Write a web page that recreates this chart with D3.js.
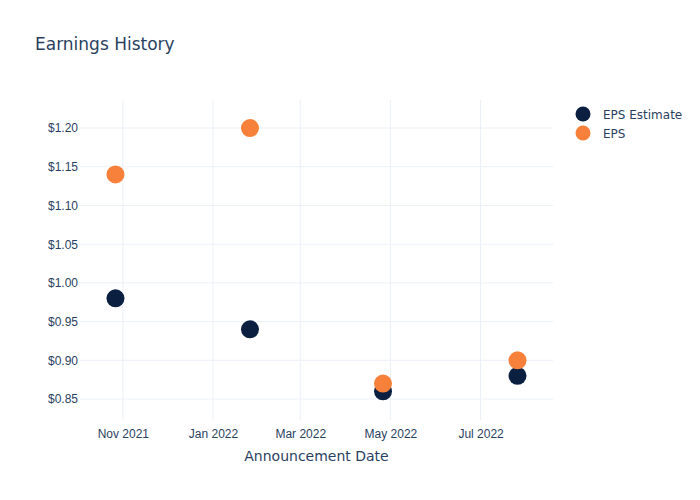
<!DOCTYPE html>
<html><head><meta charset="utf-8">
<script src="https://cdn.jsdelivr.net/npm/d3@7"></script>
<style>body{margin:0;background:#fff;}svg{font-family:"DejaVu Sans",Verdana,sans-serif;}</style>
</head><body>
<svg id="c" width="700" height="500"></svg>
<script>
const dates = ["2021-10-27","2022-01-26","2022-04-26","2022-07-26"];
const epsEstimate = [0.98, 0.94, 0.86, 0.88];
const eps = [1.14, 1.20, 0.87, 0.90];
const seriesNames = ["EPS Estimate", "EPS"];
const seriesColors = ["#0b1f41", "#f7813a"];
const yTicks = [0.85, 0.90, 0.95, 1.00, 1.05, 1.10, 1.15, 1.20];
const xTicks = ["2021-11-01","2022-01-01","2022-03-01","2022-05-01","2022-07-01"];

const parse = d3.utcParse("%Y-%m-%d");
const svg = d3.select("#c");
const m = {l:80, r:147, t:100, b:80};
const W = 700, H = 500;
const x = d3.scaleUtc().domain([parse("2021-10-03"), parse("2022-08-19")]).range([m.l, W-m.r]);
const y = d3.scaleLinear().domain([0.8229, 1.2362]).range([H-m.b, m.t]);
const txt = "#2a3f5f", grid = "#ebf0f8";

const g = svg.append("g");
g.selectAll(".gx").data(xTicks).enter().append("line")
  .attr("x1", d=>x(parse(d))).attr("x2", d=>x(parse(d)))
  .attr("y1", m.t).attr("y2", H-m.b).attr("stroke", grid).attr("stroke-width",1);
g.selectAll(".gy").data(yTicks).enter().append("line")
  .attr("x1", m.l).attr("x2", W-m.r)
  .attr("y1", d=>y(d)).attr("y2", d=>y(d)).attr("stroke", grid).attr("stroke-width",1);

const yAxis = d3.axisLeft(y).tickValues(yTicks).tickSize(0).tickPadding(3).tickFormat(d=>"$"+d.toFixed(2));
const ya = svg.append("g").attr("transform",`translate(${m.l},0)`).call(yAxis);
ya.select(".domain").remove();
ya.selectAll("text").attr("fill", txt).style("font-size","12px").attr("x",-2);

const xAxis = d3.axisBottom(x).tickValues(xTicks.map(parse)).tickSize(0).tickPadding(9).tickFormat(d3.utcFormat("%b %Y"));
const xa = svg.append("g").attr("transform",`translate(0,${H-m.b})`).call(xAxis);
xa.select(".domain").remove();
xa.selectAll("text").attr("fill", txt).style("font-size","12px");

const series = [epsEstimate, eps];
series.forEach((vals, i) => {
  svg.append("g").selectAll("circle").data(vals).enter().append("circle")
    .attr("cx", (d,j)=>x(parse(dates[j]))).attr("cy", d=>y(d)).attr("r", 9)
    .attr("fill", seriesColors[i]);
});

svg.append("text").attr("x",35).attr("y",50).text("Earnings History")
  .attr("fill", txt).style("font-size","17px");
svg.append("text").attr("x",(m.l + W - m.r)/2).attr("y",461).attr("text-anchor","middle")
  .text("Announcement Date").attr("fill", txt).style("font-size","14px");

seriesNames.forEach((n,i)=>{
  const ly = 114 + i*19;
  svg.append("circle").attr("cx",583).attr("cy",ly).attr("r",7.5).attr("fill",seriesColors[i]);
  svg.append("text").attr("x",603).attr("y",ly+4.5).text(n).attr("fill",txt).style("font-size","12px");
});
</script>
</body></html>
